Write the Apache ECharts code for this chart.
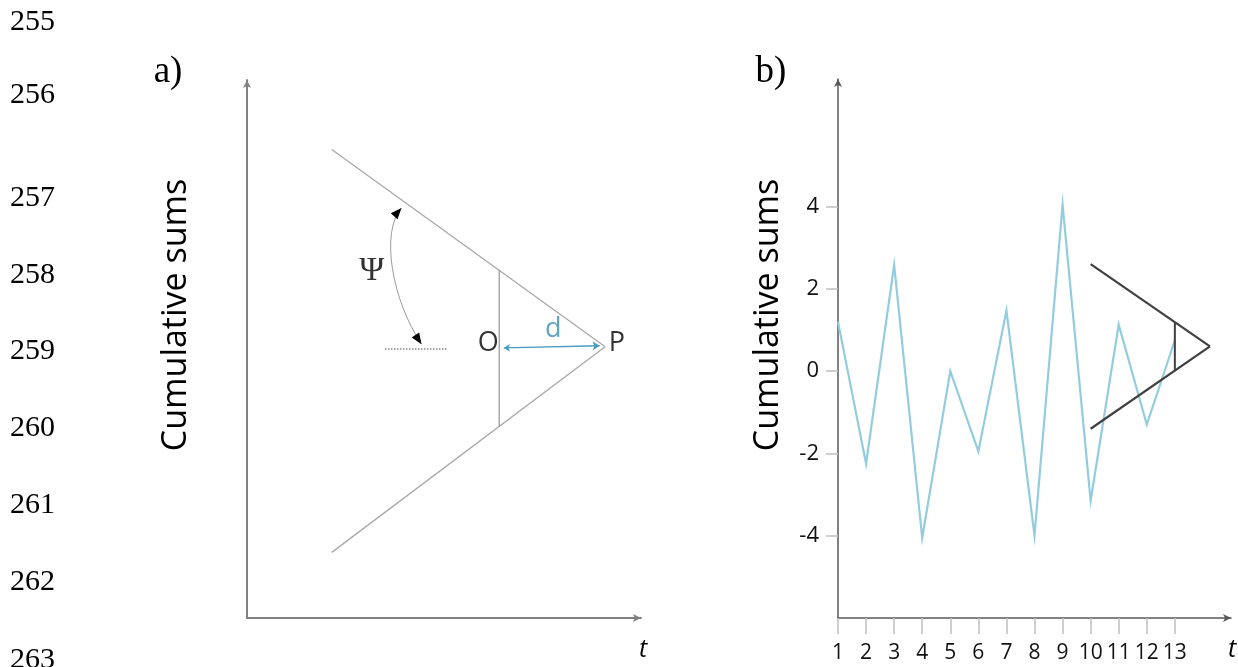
<!DOCTYPE html>
<html>
<head>
<meta charset="utf-8">
<script src="https://cdn.jsdelivr.net/npm/echarts@6/dist/echarts.min.js"></script>
<style>
  html, body { margin: 0; padding: 0; background: #ffffff; }
  #chart { width: 1238px; height: 667px; }
</style>
</head>
<body>
<div id="chart"></div>
<script>
// ---- Panel b: cumulative sums over time with a V-mask placed at t = 13 ----
const timeSteps = [1, 2, 3, 4, 5, 6, 7, 8, 9, 10, 11, 12, 13];
const cusumValues = [1.2, -2.25, 2.58, -4.05, 0.0, -1.95, 1.47, -4.0, 4.05, -3.15, 1.13, -1.3, 0.75];
const yTickValues = [-4, -2, 0, 2, 4];
const maskUpperArm = [[10, 2.6], [14.25, 0.6]];
const maskLowerArm = [[10, -1.4], [14.25, 0.6]];
const maskLeadLine = [[13, 1.18], [13, 0]];

// ---- Panel a: schematic V-mask (arbitrary units) ----
const vUpperArm = [[2.15, 8.71], [9.09, 5.04]];
const vLowerArm = [[2.15, 1.22], [9.09, 5.04]];
const vLeadLine = [[6.40, 6.46], [6.40, 3.56]];
const horizontalRef = [[3.5, 5.0], [5.07, 5.0]];
const leadDistance = [[6.52, 5.02], [8.95, 5.06]];
// cubic curve for the angle marker: start, control 1, control 2, end
const angleArc = [[4.43, 5.09, 3.68, 5.91, 3.38, 7.17, 3.92, 7.62]];
const pointLabels = [[6.12, 5.11, 'O'], [9.39, 5.11, 'P']];
const distanceLabel = [[7.77, 5.37, 'd']];
const angleLabel = [[3.17, 6.44, 'Ψ']];

// margin line numbers of the page
const lineNumbers = ['255', '256', '257', '258', '259', '260', '261', '262', '263'];

const chart = echarts.init(document.getElementById('chart'), null, { renderer: 'canvas' });

const SANS = "'Open Sans', 'Noto Sans', sans-serif";
const SERIF = "'Liberation Serif', 'DejaVu Serif', serif";

function arrowAxisLine(color, width) {
  return {
    show: true,
    onZero: false,
    symbol: ['none', 'arrow'],
    symbolSize: [6, 8],
    lineStyle: { color: color, width: width }
  };
}

function labelItems(rows) {
  return rows.map(r => ({ value: [r[0], r[1]], name: r[2] }));
}

function textSeries(rows, font, size, color) {
  return {
    type: 'scatter',
    xAxisIndex: 0, yAxisIndex: 0,
    symbolSize: 0,
    silent: true,
    data: labelItems(rows),
    label: {
      show: true,
      position: 'inside',
      formatter: '{b}',
      fontFamily: font,
      fontSize: size,
      color: color
    }
  };
}

function renderArc(params, api) {
  const p0 = api.coord([api.value(0), api.value(1)]);
  const c1 = api.coord([api.value(2), api.value(3)]);
  const c2 = api.coord([api.value(4), api.value(5)]);
  const p3 = api.coord([api.value(6), api.value(7)]);
  function head(tip, from) {
    const dx = tip[0] - from[0], dy = tip[1] - from[1];
    const len = Math.sqrt(dx * dx + dy * dy) || 1;
    const ux = dx / len, uy = dy / len;
    const L = 11, W = 4.5;
    const bx = tip[0] - ux * L, by = tip[1] - uy * L;
    return {
      type: 'polygon',
      shape: { points: [tip, [bx - uy * W, by + ux * W], [bx + uy * W, by - ux * W]] },
      style: { fill: '#000000' }
    };
  }
  return {
    type: 'group',
    children: [
      {
        type: 'bezierCurve',
        shape: { x1: p0[0], y1: p0[1], cpx1: c1[0], cpy1: c1[1], cpx2: c2[0], cpy2: c2[1], x2: p3[0], y2: p3[1] },
        style: { stroke: '#9a9a9a', lineWidth: 1, fill: null }
      },
      head(p0, c1),
      head(p3, c2)
    ]
  };
}

const lineNumberY = [22, 95, 198, 275, 351, 428, 505, 582, 660];

const graphics = [];
lineNumbers.forEach((txt, i) => {
  graphics.push({
    type: 'text', x: 10, y: lineNumberY[i],
    style: { text: txt, font: '30px ' + SERIF, fill: '#000000', align: 'left', verticalAlign: 'middle' }
  });
});
graphics.push(
  { type: 'text', x: 168, y: 72, style: { text: 'a)', font: '37px ' + SERIF, fill: '#000', align: 'center', verticalAlign: 'middle' } },
  { type: 'text', x: 771, y: 72, style: { text: 'b)', font: '37px ' + SERIF, fill: '#000', align: 'center', verticalAlign: 'middle' } },
  { type: 'text', x: 176, y: 315, rotation: Math.PI / 2, style: { text: 'Cumulative sums', font: '34px ' + SANS, fill: '#000', align: 'center', verticalAlign: 'middle' } },
  { type: 'text', x: 768, y: 315, rotation: Math.PI / 2, style: { text: 'Cumulative sums', font: '34px ' + SANS, fill: '#000', align: 'center', verticalAlign: 'middle' } },
  { type: 'text', x: 643, y: 650, style: { text: 't', font: 'italic 25px ' + SANS, fill: '#000', align: 'center', verticalAlign: 'middle' } },
  { type: 'text', x: 1232, y: 650, style: { text: 't', font: 'italic 25px ' + SANS, fill: '#000', align: 'center', verticalAlign: 'middle' } }
);

const option = {
  backgroundColor: '#ffffff',
  animation: false,
  grid: [
    { left: 247, top: 80, width: 394, height: 538 },
    { left: 838, top: 79, width: 393, height: 539 }
  ],
  xAxis: [
    {
      gridIndex: 0, type: 'value', min: 0, max: 10,
      axisLine: arrowAxisLine('#808080', 2),
      axisTick: { show: false }, axisLabel: { show: false }, splitLine: { show: false }
    },
    {
      gridIndex: 1, type: 'value', min: 1, max: 15,
      axisLine: arrowAxisLine('#595959', 1.5),
      axisTick: { show: true, length: 16, customValues: timeSteps, lineStyle: { color: '#c0c0c0', width: 1.5 } },
      axisLabel: { show: true, customValues: timeSteps, margin: 25, fontFamily: SANS, fontSize: 21, color: '#111111' },
      splitLine: { show: false }
    }
  ],
  yAxis: [
    {
      gridIndex: 0, type: 'value', min: 0, max: 10,
      axisLine: arrowAxisLine('#808080', 2),
      axisTick: { show: false }, axisLabel: { show: false }, splitLine: { show: false }
    },
    {
      gridIndex: 1, type: 'value', min: -6, max: 7.1,
      axisLine: arrowAxisLine('#595959', 1.5),
      axisTick: { show: true, length: 12, customValues: yTickValues, lineStyle: { color: '#c0c0c0', width: 1.5 } },
      axisLabel: { show: true, customValues: yTickValues, margin: 19, fontFamily: SANS, fontSize: 22, color: '#111111' },
      splitLine: { show: false }
    }
  ],
  series: [
    // panel a
    { type: 'line', xAxisIndex: 0, yAxisIndex: 0, data: vUpperArm, showSymbol: false, silent: true,
      lineStyle: { color: '#a8a8a8', width: 1.3 } },
    { type: 'line', xAxisIndex: 0, yAxisIndex: 0, data: vLowerArm, showSymbol: false, silent: true,
      lineStyle: { color: '#a8a8a8', width: 1.3 } },
    { type: 'line', xAxisIndex: 0, yAxisIndex: 0, data: vLeadLine, showSymbol: false, silent: true,
      lineStyle: { color: '#7f7f7f', width: 1 } },
    { type: 'line', xAxisIndex: 0, yAxisIndex: 0, data: horizontalRef, showSymbol: false, silent: true,
      lineStyle: { color: '#404040', width: 1, type: [1.5, 1.5] } },
    { type: 'lines', coordinateSystem: 'cartesian2d', xAxisIndex: 0, yAxisIndex: 0, silent: true,
      symbol: ['arrow', 'arrow'], symbolSize: [6, 7],
      lineStyle: { color: '#4a9cbf', width: 1.3, opacity: 1 },
      data: [{ coords: leadDistance }] },
    { type: 'custom', xAxisIndex: 0, yAxisIndex: 0, silent: true, renderItem: renderArc,
      encode: { x: [0, 2, 4, 6], y: [1, 3, 5, 7] }, data: angleArc },
    textSeries(pointLabels, SANS, 27, '#000000'),
    textSeries(distanceLabel, SANS, 27, '#3a8db0'),
    textSeries(angleLabel, SERIF, 34, '#000000'),
    // panel b
    { type: 'line', xAxisIndex: 1, yAxisIndex: 1, showSymbol: false, silent: true,
      data: timeSteps.map((t, i) => [t, cusumValues[i]]),
      lineStyle: { color: '#93cddd', width: 2.2, join: 'miter', miterLimit: 20 } },
    { type: 'line', xAxisIndex: 1, yAxisIndex: 1, data: maskUpperArm, showSymbol: false, silent: true,
      lineStyle: { color: '#404040', width: 2.2 } },
    { type: 'line', xAxisIndex: 1, yAxisIndex: 1, data: maskLowerArm, showSymbol: false, silent: true,
      lineStyle: { color: '#404040', width: 2.2 } },
    { type: 'line', xAxisIndex: 1, yAxisIndex: 1, data: maskLeadLine, showSymbol: false, silent: true,
      lineStyle: { color: '#404040', width: 2 } }
  ],
  graphic: graphics
};

chart.setOption(option);
</script>
</body>
</html>
